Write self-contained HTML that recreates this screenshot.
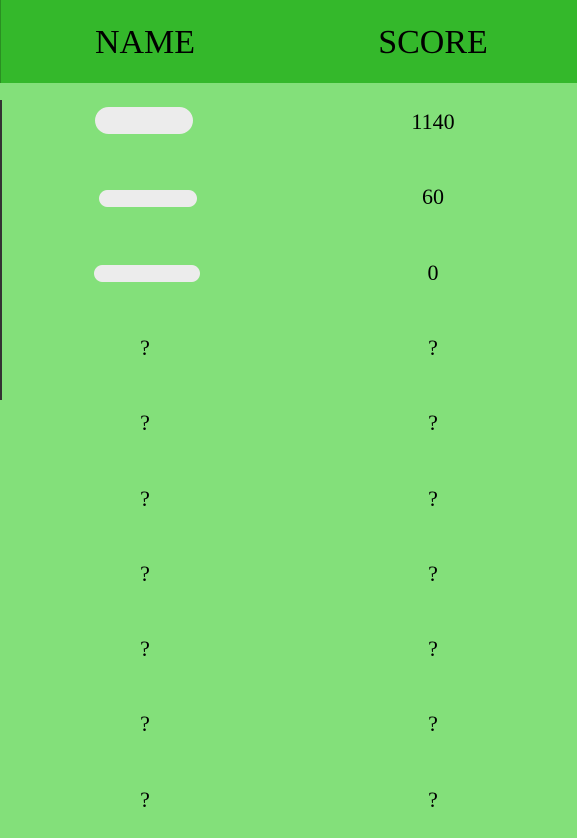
<!DOCTYPE html>
<html><head><meta charset="utf-8"><style>
body{margin:0;width:577px;height:838px;overflow:hidden;background:#83e07a;font-family:"Liberation Serif",serif;position:relative}
.hdr{position:absolute;left:0;top:0;width:577px;height:83px;background:#34b82b}
.t{position:absolute;transform:translate(-50%,-50%);white-space:nowrap;color:#000}
.h{font-size:34px}
.c{font-size:22px}
.blob{position:absolute;background:#ececec;border-radius:14px}
</style></head><body>
<div class="hdr"></div>
<div style="position:absolute;left:0;top:0;width:1px;height:83px;background:#2a8f22"></div>
<div style="position:absolute;left:0;top:100px;width:2px;height:300px;background:#333"></div>
<div class="t h" style="left:145px;top:43px">NAME</div>
<div class="t h" style="left:433px;top:43px">SCORE</div>
<div id="rows"></div>
<script>
const names=["","","","?","?","?","?","?","?","?"];
const scores=["1140","60","0","?","?","?","?","?","?","?"];
const root=document.getElementById('rows');
for(let i=0;i<names.length;i++){
  const y=122+i*75.3;
  const n=document.createElement('div');
  n.className='t c';n.style.left='145px';n.style.top=y+'px';n.textContent=names[i];
  
  
  root.appendChild(n);
  const s=document.createElement('div');
  s.className='t c';s.style.left='433px';s.style.top=y+'px';s.textContent=scores[i];
  
  
  root.appendChild(s);
}
const blobs=[[95,107,98,27],[99,190,98,17],[94,265,106,17]];
blobs.forEach(b=>{
  const d=document.createElement('div');
  d.className='blob';
  d.style.left=b[0]+'px';d.style.top=b[1]+'px';d.style.width=b[2]+'px';d.style.height=b[3]+'px';
  
  
  root.appendChild(d);
});
</script>
</body></html>
